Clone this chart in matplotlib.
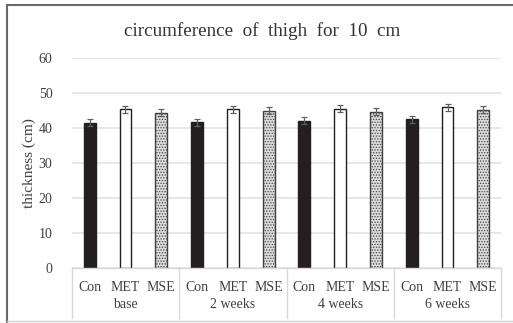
import matplotlib.pyplot as plt
import numpy as np
from matplotlib.lines import Line2D

plt.rcParams['font.family'] = ['Liberation Serif', 'DejaVu Serif']

groups = ['base', '2 weeks', '4 weeks', '6 weeks']
treatments = ['Con', 'MET', 'MSE']
con = [41.5, 41.7, 42.1, 42.6]
met = [45.4, 45.4, 45.6, 46.0]
mse = [44.4, 44.9, 44.7, 45.2]
con_err = [1.0, 1.0, 1.0, 1.0]
met_err = [1.0, 1.0, 1.0, 1.0]
mse_err = [1.0, 1.0, 1.0, 1.0]

fig = plt.figure(figsize=(5.13, 3.23), dpi=100)
ax = fig.add_axes([0.140, 0.170, 0.837, 0.650])

x = np.arange(len(groups)) * 3
w = 0.33
err_kw = dict(ecolor='#606060', capsize=2.5, elinewidth=0.9, capthick=0.9)
ax.bar(x, con, w, yerr=con_err, color='#231f20', edgecolor='#231f20',
       error_kw=err_kw, zorder=3)
ax.bar(x + 1, met, w, yerr=met_err, color='white', edgecolor='#231f20',
       linewidth=1.0, error_kw=err_kw, zorder=3)
plt.rcParams['hatch.linewidth'] = 0.6
ax.bar(x + 2, mse, w, yerr=mse_err, color='#dcdcdc', edgecolor='#404040',
       hatch='......', linewidth=1.0, error_kw=err_kw, zorder=3)

ax.set_xlim(-0.5, 11.5)
ax.set_ylim(0, 60)
ax.set_yticks(range(0, 61, 10))
ax.yaxis.grid(True, color='#e3e3e3', linewidth=1.2, zorder=0)
for s in ax.spines.values():
    s.set_visible(False)
ax.tick_params(axis='y', length=0, pad=14, labelsize=10, labelcolor='#404040')
ax.tick_params(axis='x', length=0, pad=9, labelsize=10, labelcolor='#404040')
ax.set_xticks(np.arange(12))
ax.set_xticklabels(treatments * len(groups))
ax.set_ylabel('thickness (cm)', fontsize=11, color='#404040', labelpad=2)

# multi-level category axis
tr = ax.get_xaxis_transform()
ax.plot([-0.5, 11.5], [0, 0], transform=tr, color='#d9d9d9', lw=1.0,
        clip_on=False, zorder=4)
for b in [-0.5, 2.5, 5.5, 8.5, 11.5]:
    ax.plot([b, b], [0, -0.24], transform=tr, color='#d9d9d9', lw=1.0,
            clip_on=False)
for i, g in enumerate(groups):
    ax.text(x[i] + 1, -0.175, g, transform=tr, ha='center', va='center',
            fontsize=10, color='#404040')

fig.text(0.51, 0.905, 'circumference  of  thigh  for  10  cm', ha='center',
         va='center', fontsize=13.7, color='#333333')

# outer frame
fig.add_artist(Line2D([0.014, 0.014], [0.0, 0.985], transform=fig.transFigure,
                      color='#6a6a6a', lw=1.5))
fig.add_artist(Line2D([0.014, 1.0], [0.985, 0.985], transform=fig.transFigure,
                      color='#6a6a6a', lw=1.5))
fig.add_artist(Line2D([0.014, 1.0], [0.006, 0.006], transform=fig.transFigure,
                      color='#d0d0d0', lw=1.0))

fig.savefig('out.png', dpi=100)
